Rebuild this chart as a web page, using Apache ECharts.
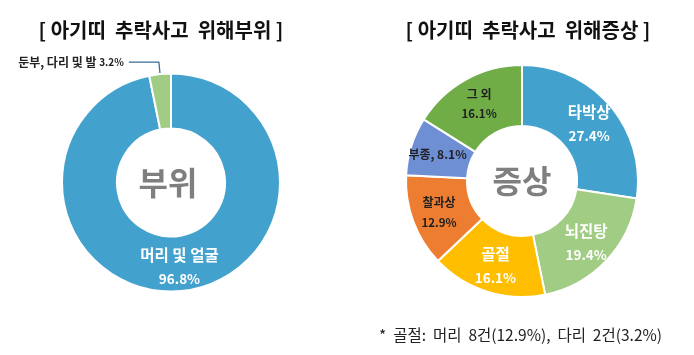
<!DOCTYPE html>
<html>
<head>
<meta charset="utf-8">
<script src="https://cdn.jsdelivr.net/npm/echarts@6/dist/echarts.min.js"></script>
<style>
html,body{margin:0;padding:0;background:#fff;}
#chart{width:694px;height:355px;}
</style>
</head>
<body>
<div id="chart"></div>
<script>
// ---- data ----
var partTitle = '[ 아기띠  추락사고  위해부위 ]';
var partCenter = '부위';
var partNames = ['머리 및 얼굴', '둔부, 다리 및 발'];
var partValues = [96.8, 3.2];

var symptomTitle = '[ 아기띠  추락사고  위해증상 ]';
var symptomCenter = '증상';
var symptomNames = ['타박상', '뇌진탕', '골절', '찰과상', '부종', '그 외'];
var symptomValues = [27.4, 19.4, 16.1, 12.9, 8.1, 16.1];

var footnote = '*  골절:  머리  8건(12.9%),  다리  2건(3.2%)';

// ---- styles ----
var FONT = '"Noto Sans CJK KR", "Noto Sans", sans-serif';
var partColors = ['#43a2cd', '#a1cc84'];
var symptomColors = ['#43a2cd', '#a1cc84', '#ffbf00', '#ed7d31', '#6f8fd5', '#70ad47'];
var symptomLabelDark = [false, false, false, true, true, true];
var symptomInline = [false, false, false, false, true, false];

var partData = partNames.map(function (n, i) {
  var d = { name: n, value: partValues[i], itemStyle: { color: partColors[i] } };
  if (i === 0) {
    d.label = {
      position: 'inside',
      formatter: function (p) { return '{n|' + p.name + '}\n{v|' + p.value.toFixed(1) + '%}'; },
      rich: {
        n: { color: '#fff', fontSize: 15.5, fontWeight: 'bold', fontFamily: FONT, lineHeight: 25 },
        v: { color: '#fff', fontSize: 13.5, fontWeight: 'bold', fontFamily: FONT, lineHeight: 22 }
      }
    };
  } else {
    d.label = {
      position: 'outside',
      formatter: function (p) { return '{n|' + p.name + ' }{v|' + p.value.toFixed(1) + '%}'; },
      rich: {
        n: { color: '#222', fontSize: 12, fontWeight: 'bold', fontFamily: FONT },
        v: { color: '#222', fontSize: 10, fontWeight: 'bold', fontFamily: FONT }
      }
    };
    d.labelLine = { show: true, length: 12, length2: 30, lineStyle: { color: '#3d6c98', width: 1.3 } };
  }
  return d;
});

var symptomData = symptomNames.map(function (n, i) {
  var dark = symptomLabelDark[i];
  var col = dark ? '#1f1f1f' : '#fff';
  var big = !dark;
  return {
    name: n, value: symptomValues[i],
    itemStyle: { color: symptomColors[i] },
    label: {
      position: 'inside',
      formatter: function (p) {
        var v = p.value.toFixed(1) + '%';
        return symptomInline[i] ? '{n|' + p.name + ', ' + v + '}' : '{n|' + p.name + '}\n{v|' + v + '}';
      },
      rich: {
        n: { color: col, fontSize: big ? 15.5 : 12, fontWeight: 'bold', fontFamily: FONT, lineHeight: big ? 25 : 21 },
        v: { color: col, fontSize: big ? 13.5 : 11.5, fontWeight: 'bold', fontFamily: FONT, lineHeight: big ? 22 : 19 }
      }
    }
  };
});

var chart = echarts.init(document.getElementById('chart'), null, { renderer: 'canvas' });
chart.setOption({
  backgroundColor: '#fff',
  animation: false,
  title: [
    { text: partTitle, left: 156, top: 15, textAlign: 'center',
      textStyle: { fontSize: 20, fontWeight: 'bold', color: '#111', fontFamily: FONT } },
    { text: symptomTitle, left: 523, top: 15, textAlign: 'center',
      textStyle: { fontSize: 20, fontWeight: 'bold', color: '#111', fontFamily: FONT } }
  ],
  graphic: [
    { type: 'text', x: 168, y: 183, style: { text: partCenter, fill: '#7f7f7f', font: 'bold 32px ' + FONT, align: 'center', verticalAlign: 'middle' } },
    { type: 'text', x: 522, y: 181, style: { text: symptomCenter, fill: '#7f7f7f', font: 'bold 32px ' + FONT, align: 'center', verticalAlign: 'middle' } },
    { type: 'text', x: 379, y: 335, style: { text: footnote, fill: '#222', font: '15.5px ' + FONT, align: 'left', verticalAlign: 'middle' } }
  ],
  series: [
    {
      type: 'pie', center: [171, 182.5], radius: [54, 109], startAngle: 90, clockwise: true,
      avoidLabelOverlap: false, silent: true,
      itemStyle: { borderColor: '#fff', borderWidth: 2 },
      label: { show: true },
      labelLine: { show: false },
      data: partData
    },
    {
      type: 'pie', center: [522, 181], radius: [55, 116], startAngle: 90, clockwise: true,
      avoidLabelOverlap: false, silent: true,
      itemStyle: { borderColor: '#fff', borderWidth: 2 },
      label: { show: true },
      labelLine: { show: false },
      data: symptomData
    }
  ]
});
</script>
</body>
</html>
